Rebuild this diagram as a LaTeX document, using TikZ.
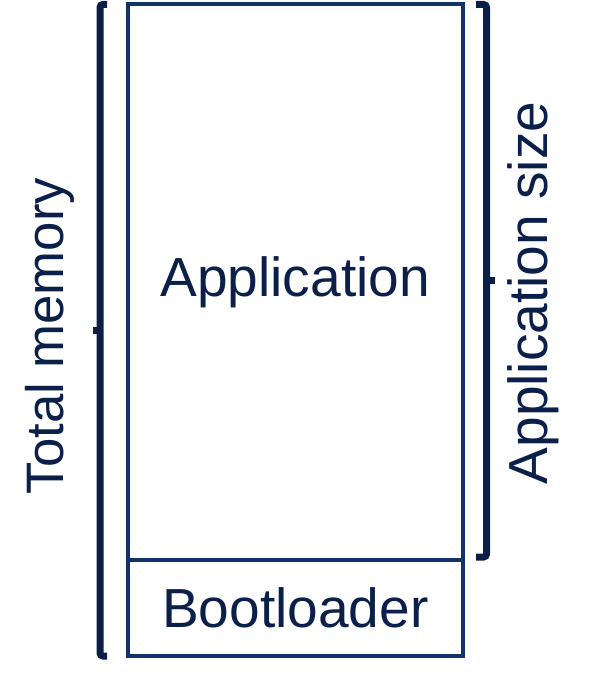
\documentclass[tikz,border=0pt]{standalone}
\usepackage{fontspec}
\setmainfont{Liberation Sans}
\usetikzlibrary{calc,positioning}
\definecolor{navytext}{HTML}{0B1F4B}
\definecolor{boxstroke}{HTML}{12326A}
\definecolor{bracestroke}{HTML}{0A1E48}

\begin{document}
\begin{tikzpicture}[
  x=0.3mm,
  y=-0.3mm,
  every node/.style={
    text=navytext,
    font=\fontsize{47}{56}\selectfont,
    inner sep=0pt,
    outer sep=0pt
  },
  memblock/.style={
    draw=boxstroke,
    line width=1.2mm,
    rectangle,
    minimum width=100.65mm
  },
  bracket/.style={
    draw=bracestroke,
    line width=2.1mm,
    rounded corners=0.9mm
  },
  tick/.style={
    draw=bracestroke,
    line width=2.1mm
  },
  sidelabel/.style={
    rotate=90,
    anchor=center
  }
]

\path[use as bounding box] (0,0) rectangle (599,674);

% Memory blocks
\node[memblock, minimum height=166.5mm] (app) at (295.25,282) {Application};
\node[memblock, minimum height=28.95mm, below=0pt of app] (boot) {Bootloader};

% Total memory bracket
\coordinate (ltop) at ($(app.north west)+(-27.5,0)$);
\coordinate (lbot) at ($(boot.south west)+(-27.5,0)$);
\coordinate (lmid) at ($(ltop)!0.5!(lbot)$);
\draw[bracket] ($(ltop)+(7,0)$) -- (ltop) -- (lbot) -- ($(lbot)+(7,0)$);
\draw[tick] (lmid) -- ($(lmid)+(-7,0)$);

% Application size bracket
\coordinate (rtop) at ($(app.north east)+(23.5,0)$);
\coordinate (rbot) at ($(app.south east)+(23.5,-2.5)$);
\coordinate (rmid) at ($(rtop)!0.5!(rbot)$);
\draw[bracket] ($(rtop)+(-10.5,0)$) -- (rtop) -- (rbot) -- ($(rbot)+(-10.5,0)$);
\draw[tick] (rmid) -- ($(rmid)+(8.5,0)$);

% Side labels
\node[sidelabel, font=\fontsize{45}{54}\selectfont] (total) at (49.5,336) {Total memory};
\node[sidelabel] (appsize) at (533,293) {Application size};

\end{tikzpicture}
\end{document}
